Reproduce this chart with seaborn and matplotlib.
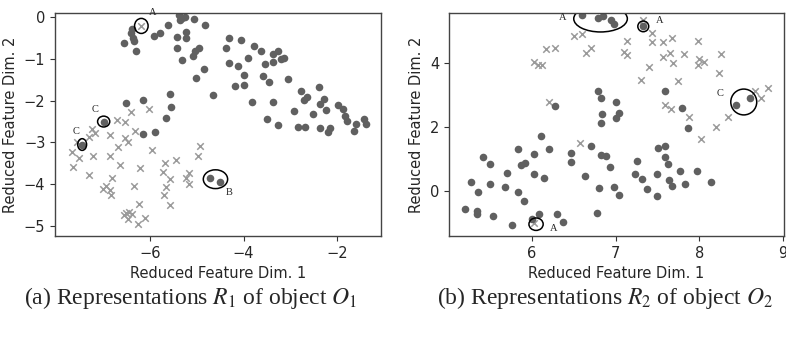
import matplotlib
matplotlib.use("Agg")
from matplotlib import pyplot as plt
from matplotlib.patches import Ellipse
import seaborn as sns
import pandas as pd

# ----------- data ---------------------------------
# (a) object O1
left_dot_x = [-6.55, -6.39, -6.41, -6.37, -6.35, -6.30, -5.92, -5.78, -5.62, -5.37, -5.32, -5.35, -5.25,
              -5.05, -4.83, -5.43, -5.23, -5.24, -5.42, -5.32, -4.95, -5.04, -5.09, -4.84, -5.02, -4.65,
              -4.37, -4.30, -4.05, -3.78, -3.62, -3.90, -3.36, -3.26, -3.20, -3.13, -4.32, -4.11, -3.55,
              -3.36, -3.98, -3.58, -3.46, -3.04, -4.18, -3.99, -2.78, -2.38, -2.64, -2.70, -2.28, -2.37,
              -3.81, -3.36, -2.93, -2.24, -2.52, -1.97, -1.88, -1.83, -1.79, -3.50, -3.26, -2.83, -2.68,
              -2.36, -2.15, -2.19, -1.43, -1.39, -1.59, -1.63,
              -5.57, -5.54, -6.15, -6.51, -5.66, -6.14, -5.89, -6.99, -7.45, -4.72, -4.51]
left_dot_y = [-0.61, -0.29, -0.39, -0.49, -0.56, -0.81, -0.46, -0.37, -0.19, 0.05, -0.01, -0.06, 0.01,
              -0.05, -0.19, -0.47, -0.35, -0.50, -0.73, -1.03, -0.75, -0.81, -0.93, -1.25, -1.45, -1.87,
              -0.75, -0.49, -0.55, -0.68, -0.82, -0.97, -0.89, -0.82, -1.00, -0.97, -1.09, -1.16, -1.12,
              -1.08, -1.38, -1.40, -1.55, -1.48, -1.64, -1.63, -1.77, -1.68, -1.91, -1.99, -1.95, -2.07,
              -2.03, -2.03, -2.25, -2.23, -2.33, -2.11, -2.21, -2.37, -2.48, -2.43, -2.58, -2.62, -2.63,
              -2.65, -2.66, -2.74, -2.43, -2.56, -2.56, -2.73,
              -1.83, -2.15, -1.98, -2.05, -2.42, -2.80, -2.76, -2.50, -3.05, -3.84, -3.95]
left_cross_x = [-6.19, -6.70, -6.53, -6.40, -6.02, -7.23, -7.18, -7.30, -6.86, -6.31, -6.53, -6.48,
                -7.55, -7.66, -7.51, -7.22, -6.85, -7.64, -7.31, -6.65, -6.68, -5.95, -6.21, -4.92,
                -4.98, -5.44, -5.67, -5.73, -5.57, -5.24, -5.17, -5.17, -6.81, -7.01, -6.93, -6.85,
                -6.84, -6.35, -5.65, -5.69, -5.57, -6.23, -6.51, -6.45, -6.56, -6.39, -6.48, -6.10, -6.25]
left_cross_y = [-0.21, -2.46, -2.52, -2.27, -2.19, -2.69, -2.78, -2.87, -2.82, -2.73, -2.89, -2.98,
                -3.00, -3.24, -3.38, -3.33, -3.33, -3.58, -3.78, -3.55, -3.10, -3.17, -3.61, -3.08,
                -3.33, -3.43, -3.49, -3.70, -3.87, -3.86, -3.74, -4.00, -3.86, -4.12, -4.04, -4.14,
                -4.26, -4.04, -4.06, -4.26, -4.50, -4.47, -4.70, -4.66, -4.74, -4.72, -4.83, -4.82, -4.95]
# circled groups: centre x, centre y, width, height, label x, label y, label
left_marks = [(-6.185, -0.21, 0.29, 0.36, -5.94, 0.10, "A"),
              (-6.99, -2.50, 0.26, 0.26, -7.18, -2.22, "C"),
              (-7.45, -3.05, 0.19, 0.28, -7.57, -2.74, "C"),
              (-4.60, -3.88, 0.52, 0.45, -4.30, -4.19, "B")]

# (b) object O2
right_dot_x = [6.60, 6.79, 6.85, 6.94, 6.98, 7.33,
               6.79, 6.83, 6.84, 6.82, 7.01, 7.04, 7.01, 6.28, 7.59, 7.79, 7.86, 8.44, 8.60,
               6.11, 5.83, 6.02, 6.21, 6.47, 6.71, 6.82, 6.89, 7.51, 7.59, 7.59, 5.42, 7.25,
               5.50, 5.87, 5.92, 6.47, 6.93, 5.70, 6.03, 6.14, 6.63, 5.27, 5.36, 5.50, 5.68, 5.83,
               5.91, 6.80, 6.98, 7.04, 7.23, 7.32, 7.37, 7.49, 7.49, 7.63, 7.64, 7.67, 7.77, 7.83,
               7.97, 8.14,
               5.20, 5.35, 5.35, 5.54, 5.76, 6.00, 6.09, 6.30, 6.37, 6.78]
right_dot_y = [5.52, 5.41, 5.46, 5.36, 5.22, 5.17,
               3.14, 2.89, 2.39, 2.11, 2.78, 2.44, 2.27, 2.64, 3.14, 2.59, 1.96, 2.69, 2.90,
               1.72, 1.30, 1.14, 1.31, 1.17, 1.39, 1.12, 1.10, 1.35, 1.40, 1.05, 1.07, 0.93,
               0.84, 0.79, 0.86, 0.89, 0.75, 0.54, 0.52, 0.41, 0.46, 0.28, -0.05, 0.20, 0.13, -0.05,
               -0.33, 0.07, 0.11, -0.14, 0.52, 0.36, 0.05, 0.52, -0.17, 0.83, 0.34, 0.16, 0.63, 0.22,
               0.61, 0.26,
               -0.56, -0.65, -0.74, -0.80, -1.09, -0.88, -0.73, -0.73, -0.98, -0.69]
right_cross_x = [7.33, 6.50, 6.60, 6.17, 6.28, 6.02, 6.07, 6.12, 6.65, 6.71, 7.10, 7.13, 7.14, 7.44,
                 7.43, 7.56, 7.67, 7.65, 7.57, 7.68, 7.82, 7.98, 7.98, 8.00, 8.06, 8.26, 8.24, 7.40,
                 7.30, 7.74, 6.20, 7.59, 7.66, 7.88, 8.02, 8.20, 8.34, 8.67, 8.74, 8.82, 6.57, 6.03]
right_cross_y = [5.36, 4.84, 4.90, 4.45, 4.48, 4.02, 3.93, 3.93, 4.31, 4.46, 4.34, 4.26, 4.68, 4.94,
                 4.67, 4.65, 4.80, 4.31, 4.18, 4.00, 4.27, 4.70, 3.94, 4.12, 4.02, 4.27, 3.69, 3.87,
                 3.47, 3.44, 2.79, 2.68, 2.55, 2.30, 1.61, 1.99, 2.32, 3.13, 2.92, 3.21, 1.51, -1.01]
right_marks = [(6.82, 5.39, 0.64, 0.83, 6.37, 5.44, "A"),
               (7.33, 5.15, 0.13, 0.335, 7.52, 5.34, "A"),
               (8.53, 2.78, 0.31, 0.81, 8.25, 3.05, "C"),
               (6.05, -1.05, 0.17, 0.39, 6.26, -1.18, "A")]


def draw_panel(ax, dot_x, dot_y, cross_x, cross_y, marks):
    dots = pd.DataFrame({"x": dot_x, "y": dot_y})
    crosses = pd.DataFrame({"x": cross_x, "y": cross_y})
    sns.scatterplot(data=crosses, x="x", y="y", ax=ax, marker="x", color="#9a9a9a",
                    s=22, linewidth=1.1)
    sns.scatterplot(data=dots, x="x", y="y", ax=ax, color="#606060", s=30, linewidth=0)
    for cx, cy, w, h, lx, ly, txt in marks:
        ax.add_patch(Ellipse((cx, cy), w, h, fill=False, edgecolor="black", linewidth=1.1))
        ax.text(lx, ly, txt, family="Liberation Serif", fontsize=7.5, ha="center", va="center")
    ax.set_xlabel("Reduced Feature Dim. 1", fontsize=10.5)
    ax.set_ylabel("Reduced Feature Dim. 2", fontsize=10.5)
    ax.tick_params(labelsize=10.5, length=3.5, width=0.8, color="#333333")
    for sp in ax.spines.values():
        sp.set_color("#444444")
        sp.set_linewidth(1.0)


if __name__ == "__main__":
    sns.set_style("ticks")
    plt.rcParams["font.family"] = ["DejaVu Sans"]
    plt.rcParams["mathtext.fontset"] = "stix"

    fig = plt.figure(figsize=(7.86, 3.38), dpi=100)
    ax1 = fig.add_axes([0.070, 0.3018, 0.4148, 0.6598])
    ax2 = fig.add_axes([0.5712, 0.3018, 0.4262, 0.6598])

    draw_panel(ax1, left_dot_x, left_dot_y, left_cross_x, left_cross_y, left_marks)
    ax1.set_xlim(-8.03, -1.06)
    ax1.set_ylim(-5.24, 0.10)
    ax1.set_xticks([-6, -4, -2])
    ax1.set_yticks([0, -1, -2, -3, -4, -5])

    draw_panel(ax2, right_dot_x, right_dot_y, right_cross_x, right_cross_y, right_marks)
    ax2.set_xlim(5.01, 9.01)
    ax2.set_ylim(-1.42, 5.57)
    ax2.set_xticks([6, 7, 8, 9])
    ax2.set_yticks([0, 2, 4])

    fig.text(191 / 786, 0.1006, r"(a) Representations $R_1$ of object $O_1$",
             family="Liberation Serif", fontsize=17, ha="center", va="baseline")
    fig.text(605 / 786, 0.1006, r"(b) Representations $R_2$ of object $O_2$",
             family="Liberation Serif", fontsize=17, ha="center", va="baseline")

    fig.savefig("out.png", dpi=100)
